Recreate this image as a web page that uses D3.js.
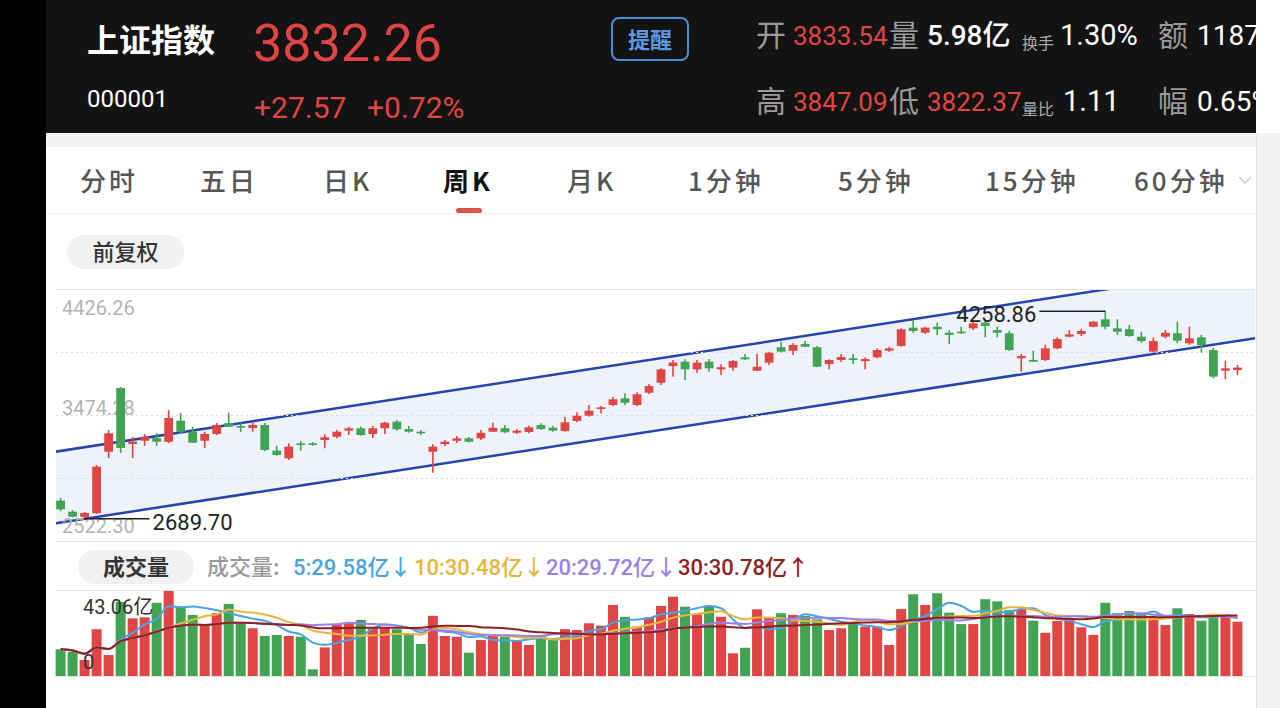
<!DOCTYPE html>
<html>
<head>
<meta charset="utf-8">
<script src="https://cdn.jsdelivr.net/npm/d3@7"></script>
<style>
  body { margin: 0; background: #000; }
  svg { display: block; }
</style>
</head>
<body>
<script>
// weekly candles
const opens = [2827,2744,2704,2732,3197,3678,3255,3280,3300,3272,3431,3348,3280,3331,3414,3391,3376,3399,3205,3147,
  3260,3260,3285,3310,3356,3374,3331,3374,3424,3368,3348,3197,3255,3280,3298,3298,3348,3374,3340,3346,
  3399,3378,3353,3429,3469,3520,3550,3600,3550,3643,3718,3844,3877,3819,3877,3819,3832,3910,3809,3870,
  3986,3960,4011,3986,3860,3890,3903,3882,3910,3960,3996,4134,4096,4141,4096,4104,4129,4172,4116,4092,
  3903,3890,3890,3978,4066,4086,4141,4197,4129,4122,4066,3953,4066,4092,4016,4061,3965,3809,3814];
const highs = [2847,2756,2741,3096,3361,3685,3308,3331,3338,3512,3489,3384,3348,3414,3492,3414,3416,3414,3242,3260,
  3278,3270,3328,3361,3386,3386,3391,3424,3436,3391,3361,3253,3285,3316,3308,3361,3416,3399,3368,3393,
  3412,3393,3461,3495,3550,3542,3613,3638,3646,3708,3827,3890,3895,3890,3897,3857,3890,3935,3935,3953,
  4028,4016,4033,3996,3895,3935,3935,3910,3978,3990,4129,4192,4141,4172,4116,4141,4192,4197,4141,4111,
  3935,3960,4003,4061,4116,4122,4184,4258.86,4197,4154,4104,4061,4116,4179,4141,4079,3983,3885,3852];
const lows = [2749,2700,2689.70,2726,3149,3187,3149,3240,3240,3263,3338,3263,3225,3323,3384,3346,3348,3202,3167,3134,
  3205,3242,3223,3298,3323,3318,3298,3331,3356,3340,3323,3038,3240,3263,3267,3285,3348,3336,3331,3336,
  3361,3348,3348,3419,3461,3487,3542,3550,3542,3633,3701,3764,3739,3794,3801,3776,3809,3890,3807,3852,
  3946,3928,3988,3835,3819,3875,3860,3819,3903,3953,3990,4096,4086,4079,4011,4086,4116,4061,4061,3958,
  3801,3877,3882,3971,4061,4071,4137,4122,4079,4066,4021,3945,4054,4016,4003,3945,3752,3744,3776];
const closes = [2762,2706,2734,3084,3336,3225,3272,3310,3272,3452,3348,3265,3331,3399,3386,3381,3399,3210,3172,3235,
  3248,3248,3306,3348,3374,3323,3374,3416,3366,3348,3336,3235,3272,3298,3272,3340,3378,3344,3356,3381,
  3368,3356,3419,3469,3507,3532,3593,3567,3631,3693,3819,3870,3819,3870,3827,3835,3882,3895,3839,3945,
  3953,4003,3990,3839,3890,3912,3890,3897,3965,3978,4122,4109,4134,4122,4079,4092,4167,4147,4096,3965,
  3920,3877,3978,4048,4084,4109,4179,4141,4104,4071,4033,4033,4096,4036,4054,4003,3764,3827,3832.26];
// weekly volume, 亿
const volumes = [13.5,12.3,8.1,23.7,10.6,37.6,29.2,29.7,37.1,43.06,35.1,30.9,25.8,31.8,36.5,27.0,24.2,20.3,20.8,20.3,
  19.9,3.4,14.5,26.3,27.0,28.4,24.2,24.7,23.7,21.6,16.2,30.5,20.3,19.9,11.8,18.2,20.8,19.9,18.2,15.7,
  20.8,19.1,23.7,23.3,26.7,25.5,36.0,30.0,25.0,29.7,35.5,40.2,35.1,31.3,35.1,30.0,11.5,14.3,33.8,29.7,
  31.8,30.9,30.4,28.7,23.3,24.2,26.7,25.0,25.0,15.7,33.9,41.4,36.0,41.9,32.1,26.3,26.3,38.9,37.8,33.4,
  33.8,28.0,21.9,27.9,28.7,24.7,20.8,37.1,31.8,32.9,32.1,29.2,25.8,34.3,31.4,28.0,29.5,30.4,27.5];

const priceTicks = [4426.26, 3950.27, 3474.28, 2998.29, 2522.30];
const priceLabels = ['4426.26', '3474.28', '2522.30'];
const volMax = 43.06;
// trend channel: [candle index, price]
const channelUpper = [[-0.5, 3196], [99.5, 4598]];
const channelLower = [[-0.5, 2655], [99.5, 4054]];
const maPeriods = [5, 10, 20, 30];
const maColors = ['#4ba3e3', '#e6b640', '#9a80e8', '#8e2020'];
const maLegend = ['5:29.58亿↓', '10:30.48亿↓', '20:29.72亿↓', '30:30.78亿↑'];
const tabs = ['分时', '五日', '日K', '周K', '月K', '1分钟', '5分钟', '15分钟', '60分钟'];
const tabX = [80, 200, 323, 443, 567, 688, 838, 985, 1134];

const RED = '#e04545', GREEN = '#43a354';
const CJK = "'Noto Sans CJK SC', sans-serif";
const NUM = "Roboto, 'Noto Sans CJK SC', sans-serif";

const W = 1280, H = 708;
const svg = d3.select('body').append('svg').attr('width', W).attr('height', H);

// page frame
svg.append('rect').attr('x', 0).attr('y', 0).attr('width', W).attr('height', H).attr('fill', '#000');
svg.append('rect').attr('x', 46).attr('y', 0).attr('width', 1210).attr('height', 133).attr('fill', '#131313');
svg.append('rect').attr('x', 46).attr('y', 133).attr('width', 1210).attr('height', 575).attr('fill', '#fff');
svg.append('rect').attr('x', 46).attr('y', 133).attr('width', 1210).attr('height', 14).attr('fill', '#f3f3f3');

// header
function txt(x, y, s, size, fill, opts = {}) {
  return svg.append('text').attr('x', x).attr('y', y).text(s)
    .attr('font-size', size).attr('fill', fill)
    .attr('font-family', opts.font || NUM)
    .attr('font-weight', opts.weight || 400)
    .attr('text-anchor', opts.anchor || 'start');
}
txt(87, 52, '上证指数', 32, '#fff', {font: CJK, weight: 700});
txt(253, 61, '3832.26', 52, RED);
txt(87, 107, '000001', 24, '#fff');
txt(254, 118, '+27.57', 30, RED);
txt(367, 118, '+0.72%', 30, RED);
svg.append('rect').attr('x', 612).attr('y', 18).attr('width', 76).attr('height', 42).attr('rx', 7)
  .attr('fill', 'none').attr('stroke', '#4b8fd1').attr('stroke-width', 2);
txt(650, 48, '提醒', 22, '#5a9be0', {font: CJK, weight: 700, anchor: 'middle'});

txt(756, 46, '开', 30, '#9a9a9a', {font: CJK});
txt(793, 45, '3833.54', 26, RED);
txt(889, 46, '量', 30, '#9a9a9a', {font: CJK});
txt(927, 45, '5.98亿', 28, '#fff', {weight: 500});
txt(1022, 49, '换手', 16, '#aaa', {font: CJK});
txt(1060, 45, '1.30%', 29, '#fff');
txt(1158, 46, '额', 30, '#9a9a9a', {font: CJK});
txt(1197, 45, '11877', 28, '#fff');

txt(756, 112, '高', 30, '#9a9a9a', {font: CJK});
txt(793, 111, '3847.09', 26, RED);
txt(889, 112, '低', 30, '#9a9a9a', {font: CJK});
txt(927, 111, '3822.37', 26, RED);
txt(1022, 115, '量比', 16, '#aaa', {font: CJK});
txt(1063, 111, '1.11', 29, '#fff');
txt(1158, 112, '幅', 30, '#9a9a9a', {font: CJK});
txt(1197, 111, '0.65%', 28, '#fff');

// right edge strip
svg.append('rect').attr('x', 1256).attr('y', 0).attr('width', 24).attr('height', 133).attr('fill', '#fff');
svg.append('rect').attr('x', 1256).attr('y', 133).attr('width', 24).attr('height', 575).attr('fill', '#f2f2f2');
svg.append('line').attr('x1', 1256.5).attr('x2', 1256.5).attr('y1', 133).attr('y2', 708).attr('stroke', '#e2e2e2');

// tabs
tabs.forEach((t, i) => {
  txt(tabX[i], 191, t, 26, t === '周K' ? '#111' : '#555', {font: CJK, weight: t === '周K' ? 700 : 500})
    .attr('letter-spacing', 3);
});
svg.append('path').attr('d', 'M1239,177 L1245,183 L1251,177').attr('fill', 'none').attr('stroke', '#c8c8c8').attr('stroke-width', 1.5);
svg.append('rect').attr('x', 456).attr('y', 208).attr('width', 26).attr('height', 5).attr('rx', 2.5).attr('fill', '#d9534f');
svg.append('line').attr('x1', 46).attr('x2', 1256).attr('y1', 213.5).attr('y2', 213.5).attr('stroke', '#efefef');

svg.append('rect').attr('x', 67).attr('y', 235).attr('width', 117).attr('height', 34).attr('rx', 17).attr('fill', '#f1f1f1');
txt(125.5, 260, '前复权', 22, '#333', {font: CJK, weight: 500, anchor: 'middle'});

// scales
const plotL = 56, plotR = 1255, plotT = 289, plotB = 541;
const idx = d3.range(closes.length);
const x = d3.scaleBand().domain(idx).range([55, 1243]).paddingInner(0.17).paddingOuter(0.05);
const bw = x.bandwidth();
const xc = d3.scaleLinear().domain([0, idx.length - 1]).range([x(0) + bw / 2, x(idx.length - 1) + bw / 2]);
const y = d3.scaleLinear().domain([2522.30, 4426.26]).range([plotB, plotT]);

svg.append('clipPath').attr('id', 'plotClip').append('rect')
  .attr('x', plotL).attr('y', plotT).attr('width', plotR - plotL).attr('height', plotB - plotT);
const plot = svg.append('g');
const clipped = plot.append('g').attr('clip-path', 'url(#plotClip)');

// channel fill
const area = d3.area().x(d => xc(d[0])).y0(d => y(d[2])).y1(d => y(d[1]));
clipped.append('path')
  .datum(channelUpper.map((d, i) => [d[0], d[1], channelLower[i][1]]))
  .attr('d', area).attr('fill', '#edf2fb');

// grid
plot.selectAll('line.grid').data(priceTicks).join('line').attr('class', 'grid')
  .attr('x1', plotL).attr('x2', plotR)
  .attr('y1', d => Math.round(y(d)) + 0.5).attr('y2', d => Math.round(y(d)) + 0.5)
  .attr('stroke', (d, i) => (i === 0 || i === priceTicks.length - 1) ? '#e3e3e3' : '#dcdcdc')
  .attr('stroke-dasharray', (d, i) => (i === 0 || i === priceTicks.length - 1) ? null : '2,3');

const labelDy = [26, 0, -8];
priceLabels.forEach((s, i) => {
  plot.append('text').attr('x', 62).attr('y', y(+s) + labelDy[i]).text(s)
    .attr('font-size', 20).attr('font-family', NUM).attr('fill', '#b3b3b3');
});

// channel lines
const line = d3.line().x(d => xc(d[0])).y(d => y(d[1]));
[channelUpper, channelLower].forEach(c => {
  clipped.append('path').datum(c).attr('d', line)
    .attr('fill', 'none').attr('stroke', '#2545ad').attr('stroke-width', 2.5);
});

// candles
const up = i => closes[i] >= opens[i];
const cw = bw * 0.88;
const candle = plot.append('g').selectAll('g').data(idx).join('g');
candle.append('line')
  .attr('x1', i => x(i) + bw / 2).attr('x2', i => x(i) + bw / 2)
  .attr('y1', i => y(highs[i])).attr('y2', i => y(lows[i]))
  .attr('stroke', i => up(i) ? RED : GREEN).attr('stroke-width', 1.6);
candle.append('rect')
  .attr('x', i => x(i) + (bw - cw) / 2).attr('width', cw)
  .attr('y', i => y(Math.max(opens[i], closes[i])))
  .attr('height', i => Math.max(1.6, Math.abs(y(opens[i]) - y(closes[i]))))
  .attr('fill', i => up(i) ? RED : GREEN);

// high / low marks
const iMax = d3.maxIndex(highs), iMin = d3.minIndex(lows);
plot.append('line').attr('x1', xc(iMin)).attr('x2', xc(iMin) + 65)
  .attr('y1', y(lows[iMin])).attr('y2', y(lows[iMin])).attr('stroke', '#222').attr('stroke-width', 1.5);
plot.append('text').attr('x', xc(iMin) + 68).attr('y', y(lows[iMin]) + 11)
  .text(lows[iMin].toFixed(2)).attr('font-size', 22).attr('font-family', NUM).attr('fill', '#222');
plot.append('line').attr('x1', xc(iMax)).attr('x2', xc(iMax) - 66)
  .attr('y1', y(highs[iMax])).attr('y2', y(highs[iMax])).attr('stroke', '#222').attr('stroke-width', 1.5);
plot.append('text').attr('x', xc(iMax) - 69).attr('y', y(highs[iMax]) + 11).attr('text-anchor', 'end')
  .text(highs[iMax].toFixed(2)).attr('font-size', 22).attr('font-family', NUM).attr('fill', '#222');

// volume header
svg.append('rect').attr('x', 78).attr('y', 550).attr('width', 116).attr('height', 34).attr('rx', 17).attr('fill', '#f1f1f1');
txt(136, 575, '成交量', 22, '#333', {font: CJK, weight: 700, anchor: 'middle'});
txt(207, 575, '成交量:', 22, '#9a9a9a', {font: CJK, weight: 500});
const legX = [293, 414, 546, 678];
maLegend.forEach((s, i) => txt(legX[i], 575, s, 22, maColors[i], {weight: 500}));

// volume panel
const vTop = 591, vBot = 676;
const yv = d3.scaleLinear().domain([0, volMax]).range([vBot, vTop]);
svg.append('line').attr('x1', plotL).attr('x2', plotR).attr('y1', 590.5).attr('y2', 590.5).attr('stroke', '#e3e3e3');
svg.append('line').attr('x1', plotL).attr('x2', plotR).attr('y1', 676.5).attr('y2', 676.5).attr('stroke', '#e3e3e3');

svg.append('g').selectAll('rect').data(idx).join('rect')
  .attr('x', i => x(i)).attr('width', bw)
  .attr('y', i => yv(volumes[i])).attr('height', i => yv(0) - yv(volumes[i]))
  .attr('fill', i => up(i) ? RED : GREEN);

txt(83, 614, volMax.toFixed(2) + '亿', 20, '#333');
txt(83, 669, '0', 20, '#333');

// volume moving averages
const vLine = d3.line().x((d, i) => xc(i)).y(d => yv(d)).curve(d3.curveMonotoneX);
maPeriods.forEach((p, k) => {
  const ma = idx.map(i => d3.mean(volumes.slice(Math.max(0, i - p + 1), i + 1)));
  svg.append('path').datum(ma).attr('d', vLine)
    .attr('fill', 'none').attr('stroke', maColors[k]).attr('stroke-width', 2);
});
</script>
</body>
</html>
